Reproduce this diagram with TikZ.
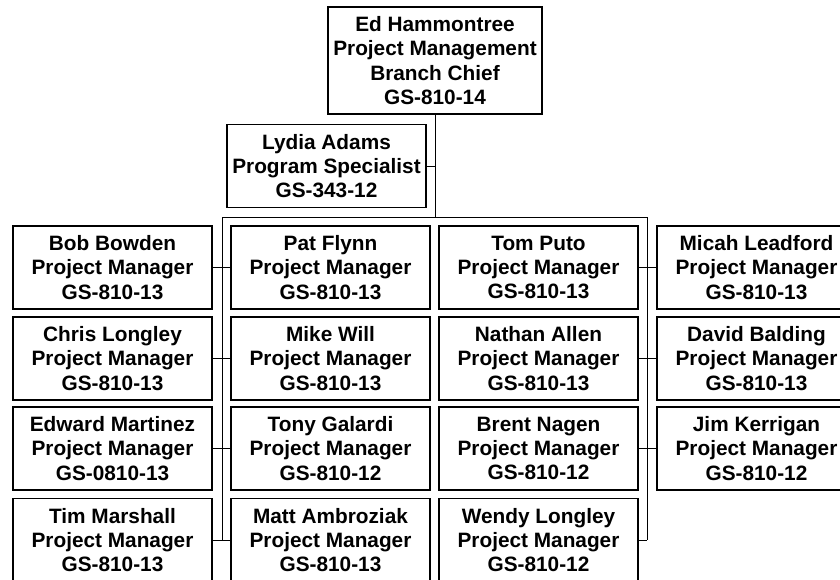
\documentclass[tikz,border=0pt]{standalone}
\usepackage{fontspec}
\setmainfont{Liberation Sans}
\begin{document}
\begin{tikzpicture}[x=1pt,y=-1pt,
  box/.style={draw=black, line width=1.8pt, rectangle, inner sep=0pt,
    minimum width=199pt, minimum height=83pt, align=center,
    font=\fontsize{20.8}{24.2}\selectfont\bfseries},
  link/.style={draw=black, line width=0.9pt}]
\clip (0,0) rectangle (840,579);
\fill[white] (0,0) rectangle (840,579);
% top
\node[box, minimum width=214pt, minimum height=107pt] (chief) at (435,60.5)
  {Ed Hammontree\\Project Management\\Branch Chief\\GS-810-14};
\node[box] (lydia) at (326.5,166) {Lydia Adams\\Program Specialist\\GS-343-12};
% column 1
\node[box] (a1) at (112.5,267.5) {Bob Bowden\\Project Manager\\GS-810-13};
\node[box] (a2) at (112.5,358.5) {Chris Longley\\Project Manager\\GS-810-13};
\node[box] (a3) at (112.5,448.5) {Edward Martinez\\Project Manager\\GS-0810-13};
\node[box] (a4) at (112.5,540) {Tim Marshall\\Project Manager\\GS-810-13};
% column 2
\node[box] (b1) at (330.5,267.5) {Pat Flynn\\Project Manager\\GS-810-13};
\node[box] (b2) at (330.5,358.5) {Mike Will\\Project Manager\\GS-810-13};
\node[box] (b3) at (330.5,448.5) {Tony Galardi\\Project Manager\\GS-810-12};
\node[box] (b4) at (330.5,540) {Matt Ambroziak\\Project Manager\\GS-810-13};
% column 3
\node[box] (c1) at (538.5,267.5) {Tom Puto\\Project Manager\\GS-810-13};
\node[box] (c2) at (538.5,358.5) {Nathan Allen\\Project Manager\\GS-810-13};
\node[box] (c3) at (538.5,448.5) {Brent Nagen\\Project Manager\\GS-810-12};
\node[box] (c4) at (538.5,540) {Wendy Longley\\Project Manager\\GS-810-12};
% column 4
\node[box] (d1) at (756.5,267.5) {Micah Leadford\\Project Manager\\GS-810-13};
\node[box] (d2) at (756.5,358.5) {David Balding\\Project Manager\\GS-810-13};
\node[box] (d3) at (756.5,448.5) {Jim Kerrigan\\Project Manager\\GS-810-12};
% trunk coordinates
\coordinate (hub) at (435,217);
\coordinate (lt) at (222,217);
\coordinate (rt) at (647,217);
\coordinate (lb) at (222,540);
\coordinate (rb) at (647,540);
\coordinate (lyd) at (435,166);
% connectors
\draw[link] (chief.south) -- (hub);
\draw[link] (lydia.east) -- (lyd);
\draw[link] (lt) -- (rt);
\draw[link] (lt) -- (lb);
\draw[link] (rt) -- (rb);
\draw[link] (a1.east) -- (b1.west);
\draw[link] (a2.east) -- (b2.west);
\draw[link] (a3.east) -- (b3.west);
\draw[link] (a4.east) -- (b4.west);
\draw[link] (c1.east) -- (d1.west);
\draw[link] (c2.east) -- (d2.west);
\draw[link] (c3.east) -- (d3.west);
\draw[link] (c4.east) -- (rb);
\end{tikzpicture}
\end{document}
